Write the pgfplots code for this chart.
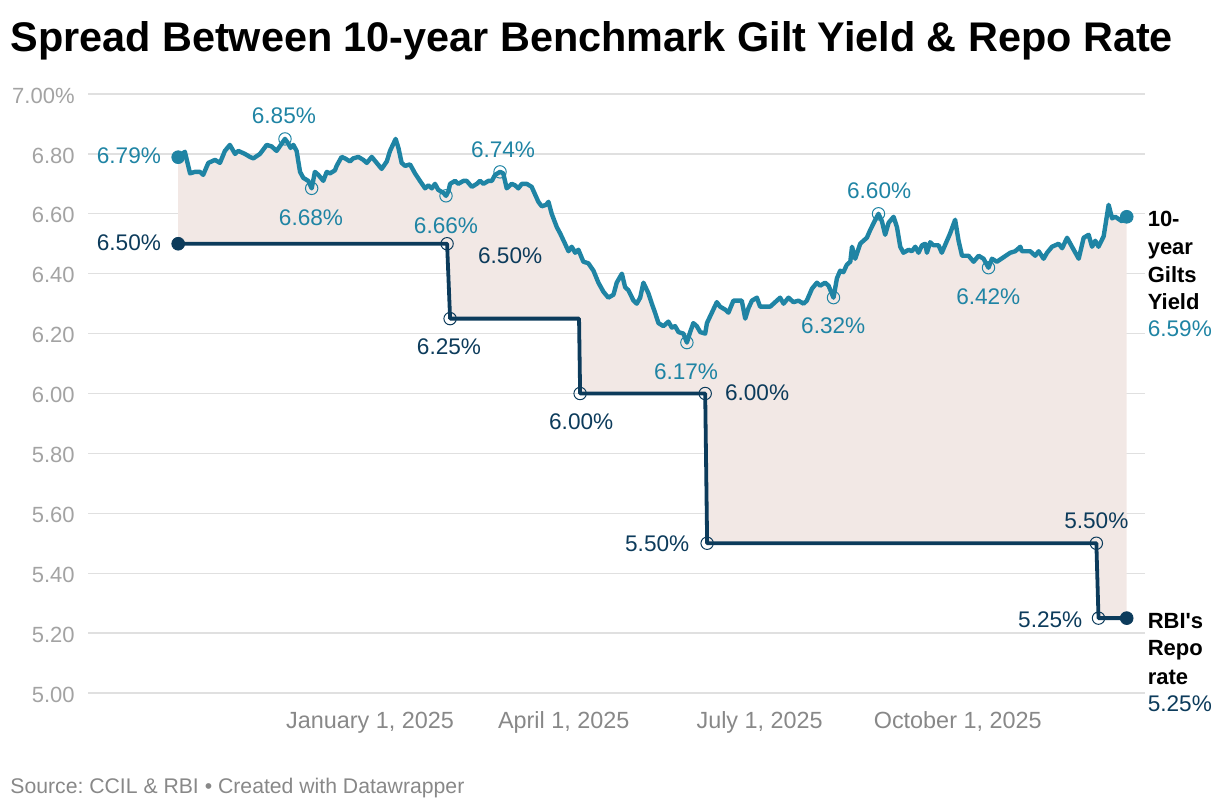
\documentclass[border=0pt]{standalone}
\usepackage{fontspec}
\setmainfont{Liberation Sans}[Ligatures=TeXOff]
\usepackage{pgfplots}
\usepackage{pgfplotstable}
\pgfplotsset{compat=1.18}
\usepgfplotslibrary{fillbetween}
\frenchspacing

\definecolor{yieldc}{HTML}{1F84A4}
\definecolor{repoc}{HTML}{0C3B5B}
\definecolor{spread}{HTML}{F2E8E5}
\definecolor{gridc}{HTML}{E0E0E0}
\definecolor{ylab}{HTML}{A3A3A3}
\definecolor{xlab}{HTML}{888888}

% x = days since 1 Jan 2025, y = yield in percent
\pgfplotstableread{
x y
-89.1 6.789
-86.0 6.807
-83.6 6.735
-81.3 6.740
-79.0 6.740
-77.5 6.730
-75.1 6.770
-72.0 6.780
-69.7 6.770
-67.4 6.810
-65.1 6.830
-62.7 6.800
-61.2 6.810
-58.1 6.800
-55.8 6.790
-54.2 6.785
-51.1 6.800
-48.0 6.830
-45.7 6.825
-43.4 6.810
-39.5 6.850
-38.0 6.835
-36.9 6.820
-35.6 6.830
-34.1 6.810
-32.5 6.740
-31.0 6.720
-28.7 6.710
-27.1 6.685
-25.6 6.740
-24.0 6.730
-21.7 6.710
-20.1 6.740
-18.6 6.735
-16.3 6.745
-15.5 6.760
-13.2 6.790
-11.6 6.785
-9.3 6.775
-7.8 6.785
-5.4 6.790
-3.1 6.780
-1.5 6.770
0.8 6.790
3.1 6.770
5.4 6.750
7.8 6.775
9.3 6.810
11.9 6.850
13.2 6.820
14.7 6.770
16.3 6.760
18.6 6.765
20.9 6.735
23.2 6.710
25.6 6.685
27.1 6.695
28.7 6.685
30.2 6.700
31.7 6.680
34.1 6.670
35.3 6.660
36.4 6.675
37.2 6.700
39.5 6.710
41.0 6.700
43.4 6.710
44.9 6.710
47.3 6.690
49.6 6.700
51.1 6.710
52.7 6.700
55.0 6.710
56.6 6.710
58.1 6.730
60.4 6.740
61.9 6.735
63.5 6.685
65.8 6.700
67.4 6.695
68.9 6.685
70.5 6.700
72.8 6.700
75.1 6.690
78.2 6.640
79.8 6.625
81.8 6.630
82.9 6.640
84.4 6.600
86.8 6.555
88.3 6.535
90.6 6.500
92.2 6.475
93.7 6.490
95.3 6.470
96.8 6.480
99.1 6.440
101.4 6.435
103.8 6.410
106.1 6.370
108.4 6.340
110.7 6.320
113.1 6.330
114.6 6.370
117.0 6.400
118.5 6.355
120.0 6.345
122.4 6.310
123.9 6.300
125.5 6.320
127.0 6.370
129.3 6.335
130.9 6.300
132.4 6.270
134.0 6.235
136.3 6.225
138.6 6.240
140.2 6.220
141.7 6.225
143.3 6.205
145.6 6.200
147.2 6.170
148.7 6.205
150.2 6.235
151.8 6.225
153.4 6.205
155.7 6.200
156.5 6.235
158.8 6.270
161.1 6.305
162.6 6.290
165.0 6.280
166.5 6.270
168.8 6.310
172.7 6.310
174.3 6.250
175.8 6.285
177.4 6.310
179.7 6.320
181.2 6.290
185.9 6.290
188.2 6.305
190.5 6.320
192.1 6.300
194.4 6.320
196.7 6.305
199.0 6.310
201.4 6.300
202.9 6.310
205.3 6.350
207.6 6.370
209.1 6.360
211.4 6.370
213.0 6.360
215.3 6.320
216.9 6.385
218.4 6.410
219.9 6.405
221.5 6.430
223.1 6.440
223.9 6.490
225.4 6.450
227.7 6.500
229.2 6.510
230.8 6.520
232.3 6.545
234.7 6.580
236.2 6.600
237.8 6.575
239.3 6.530
240.9 6.570
243.2 6.590
244.8 6.555
246.3 6.490
247.8 6.470
250.2 6.480
251.7 6.475
253.3 6.490
254.8 6.470
256.4 6.495
257.9 6.500
258.7 6.470
260.2 6.505
261.7 6.495
264.1 6.495
265.6 6.470
268.0 6.510
269.5 6.535
271.8 6.580
273.4 6.510
275.0 6.460
278.0 6.460
280.4 6.440
282.7 6.460
285.0 6.450
287.3 6.420
288.9 6.450
291.2 6.440
294.3 6.455
297.4 6.470
299.7 6.475
302.1 6.490
302.8 6.475
306.7 6.475
309.0 6.460
310.6 6.475
312.9 6.450
314.5 6.470
316.8 6.490
319.9 6.500
321.5 6.485
323.8 6.520
326.1 6.490
329.2 6.450
331.5 6.520
333.8 6.530
335.4 6.490
336.9 6.510
338.4 6.490
340.8 6.525
343.1 6.630
344.7 6.585
346.2 6.590
349.3 6.575
351.5 6.590
}\yield

\pgfplotstableread{
x y
-89.1 6.50
35.8 6.50
37.2 6.25
97.1 6.25
97.6 6.00
155.7 6.00
156.6 5.50
337.4 5.50
338.4 5.25
351.5 5.25
}\repo

\begin{document}
\begin{tikzpicture}
\path (0pt,0pt) rectangle (610pt,405pt);
\node[anchor=base west, inner sep=0pt, font=\fontsize{20.7}{24}\selectfont\bfseries] at (5pt,379pt) {Spread Between 10-year Benchmark Gilt Yield \& Repo Rate};
\node[anchor=base west, inner sep=0pt, text=xlab, font=\fontsize{10.6}{12}\selectfont] at (5pt,8.5pt) {Source: CCIL \& RBI • Created with Datawrapper};
\begin{axis}[
  at={(44pt,58.5pt)}, anchor=south west,
  scale only axis, width=528.5pt, height=299.5pt,
  xmin=-131, xmax=360, ymin=5, ymax=7,
  clip=false,
  set layers,
  axis line style={draw=none},
  major tick length=0pt,
  ymajorgrids, grid style={gridc, line width=0.7pt},
  ytick={5,5.2,5.4,5.6,5.8,6,6.2,6.4,6.6,6.8,7},
  yticklabels={5.00,5.20,5.40,5.60,5.80,6.00,6.20,6.40,6.60,6.80,7.00\%},
  yticklabel style={anchor=east, inner sep=0pt, xshift=-6.5pt, yshift=-0.8pt, text=ylab, font=\fontsize{11}{13}\selectfont},
  xtick={0,90,181,273},
  xticklabels={{January 1, 2025},{April 1, 2025},{July 1, 2025},{October 1, 2025}},
  xticklabel style={anchor=base, inner sep=0pt, yshift=-17.5pt, text=xlab, font=\fontsize{11.7}{13}\selectfont},
]
  \addplot[draw=none, name path=yield, forget plot] table {\yield};
  \addplot[draw=none, name path=repo, forget plot] table {\repo};
  \addplot[fill=spread, draw=none, on layer=axis background] fill between[of=yield and repo];

  \addplot[repoc, line width=1.9pt, line join=round] table {\repo};
  \addplot[yieldc, line width=2.2pt, line join=round] table {\yield};

  % annotated points
  \addplot[only marks, mark=o, mark size=3.1pt, yieldc, mark options={line width=0.5pt}] coordinates {
    (-39.5,6.85) (-27.1,6.685) (35.3,6.66) (60.4,6.74) (147.2,6.17) (215.3,6.32) (236.2,6.60) (287.3,6.42)};
  \addplot[only marks, mark=o, mark size=3.1pt, repoc, mark options={line width=0.5pt}] coordinates {
    (35.8,6.5) (37.2,6.25) (97.6,6.0) (155.7,6.0) (156.6,5.5) (337.4,5.5) (338.4,5.25)};
  \addplot[only marks, mark=*, mark size=3.2pt, yieldc] coordinates {(-89.1,6.789) (351.5,6.59)};
  \addplot[only marks, mark=*, mark size=3.2pt, repoc] coordinates {(-89.1,6.5) (351.5,5.25)};

  % yield labels
  \begin{scope}[every node/.style={inner sep=0pt, text=yieldc, font=\fontsize{11.3}{13}\selectfont}]
  \node at (axis cs:-112.0,6.793) {6.79\%};
  \node at (axis cs:-40.0,6.927) {6.85\%};
  \node at (axis cs:-27.4,6.586) {6.68\%};
  \node at (axis cs:35.3,6.559) {6.66\%};
  \node at (axis cs:61.8,6.813) {6.74\%};
  \node at (axis cs:146.8,6.072) {6.17\%};
  \node at (axis cs:236.5,6.676) {6.60\%};
  \node at (axis cs:215.2,6.225) {6.32\%};
  \node at (axis cs:287.2,6.322) {6.42\%};
  \node[anchor=base west] at (axis cs:361.1,6.189) {6.59\%};
  \end{scope}
  % repo labels
  \begin{scope}[every node/.style={inner sep=0pt, text=repoc, font=\fontsize{11.3}{13}\selectfont}]
  \node at (axis cs:-112.0,6.503) {6.50\%};
  \node at (axis cs:65.1,6.459) {6.50\%};
  \node at (axis cs:36.7,6.155) {6.25\%};
  \node at (axis cs:98.1,5.905) {6.00\%};
  \node at (axis cs:179.8,6.002) {6.00\%};
  \node at (axis cs:133.4,5.497) {5.50\%};
  \node at (axis cs:337.4,5.574) {5.50\%};
  \node at (axis cs:316.0,5.244) {5.25\%};
  \node[anchor=base west] at (axis cs:361.1,4.937) {5.25\%};
  \end{scope}
  % series names
  \begin{scope}[every node/.style={inner sep=0pt, anchor=base west, font=\fontsize{11}{13}\selectfont\bfseries}]
  \node at (axis cs:361.1,6.556) {10-};
  \node at (axis cs:361.1,6.464) {year};
  \node at (axis cs:361.1,6.372) {Gilts};
  \node at (axis cs:361.1,6.279) {Yield};
  \node at (axis cs:361.1,5.217) {RBI's};
  \node at (axis cs:361.1,5.124) {Repo};
  \node at (axis cs:361.1,5.030) {rate};
  \end{scope}
\end{axis}
\end{tikzpicture}
\end{document}
